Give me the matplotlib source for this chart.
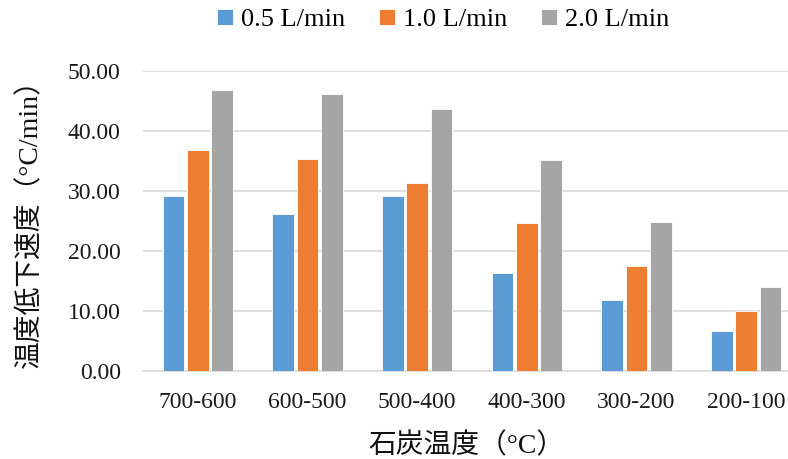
import matplotlib
matplotlib.use("Agg")
import matplotlib.pyplot as plt
import numpy as np

categories = ["700-600", "600-500", "500-400", "400-300", "300-200", "200-100"]
series_names = ["0.5 L/min", "1.0 L/min", "2.0 L/min"]
s05 = [29.2, 26.2, 29.2, 16.4, 11.8, 6.6]
s10 = [36.8, 35.4, 31.4, 24.6, 17.5, 10.0]
s20 = [46.8, 46.2, 43.6, 35.1, 24.9, 14.0]
yticks = [0, 10, 20, 30, 40, 50]
colors = ["#5B9BD5", "#ED7D31", "#A5A5A5"]

serif = ["Liberation Serif", "DejaVu Serif"]
mixed = ["Liberation Serif", "Noto Sans CJK JP", "DejaVu Sans"]

fig = plt.figure(figsize=(7.88, 4.59), dpi=100)
ax = fig.add_axes([143/788, 88/459, (801-143)/788, 300/459])

x = np.arange(len(categories))
pitch = 0.222
width = 0.2
for i, (vals, name, c) in enumerate(zip([s05, s10, s20], series_names, colors)):
    ax.bar(x + (i - 1) * pitch, vals, width=width, color=c, label=name,
           edgecolor="white", linewidth=0.6, zorder=3)

ax.set_xlim(-0.5, len(categories) - 0.5)
ax.set_ylim(0, 50)
ax.set_yticks(yticks)
ax.set_yticklabels([f"{v:.2f}" for v in yticks], family=serif, fontsize=17, color="#1a1a1a")
ax.set_xticks(x)
ax.set_xticklabels(categories, family=serif, fontsize=17, color="#1a1a1a")
ax.tick_params(axis="both", length=0)
ax.tick_params(axis="y", pad=16)
ax.tick_params(axis="x", pad=15)
ax.grid(axis="y", color="#D9D9D9", linewidth=1.2, zorder=0)
for s in ["top", "right", "left"]:
    ax.spines[s].set_visible(False)
ax.spines["bottom"].set_color("#D9D9D9")
ax.spines["bottom"].set_linewidth(1.2)

fig.text(466/788, 1 - 446/459, "石炭温度（°C）", family=mixed, fontsize=20,
         ha="center", va="center", color="#111111")
fig.text(30/788, 1 - 217/459, "温度低下速度（°C/min）", family=mixed, fontsize=20,
         ha="center", va="center", rotation=90, color="#111111")

fig.legend(loc="center", bbox_to_anchor=(443/788, 1 - 20/459), ncol=3, frameon=False,
           prop={"family": serif, "size": 19}, handlelength=0.6, handleheight=0.6,
           handletextpad=0.3, columnspacing=1.3)

fig.savefig("out.png", dpi=100)
